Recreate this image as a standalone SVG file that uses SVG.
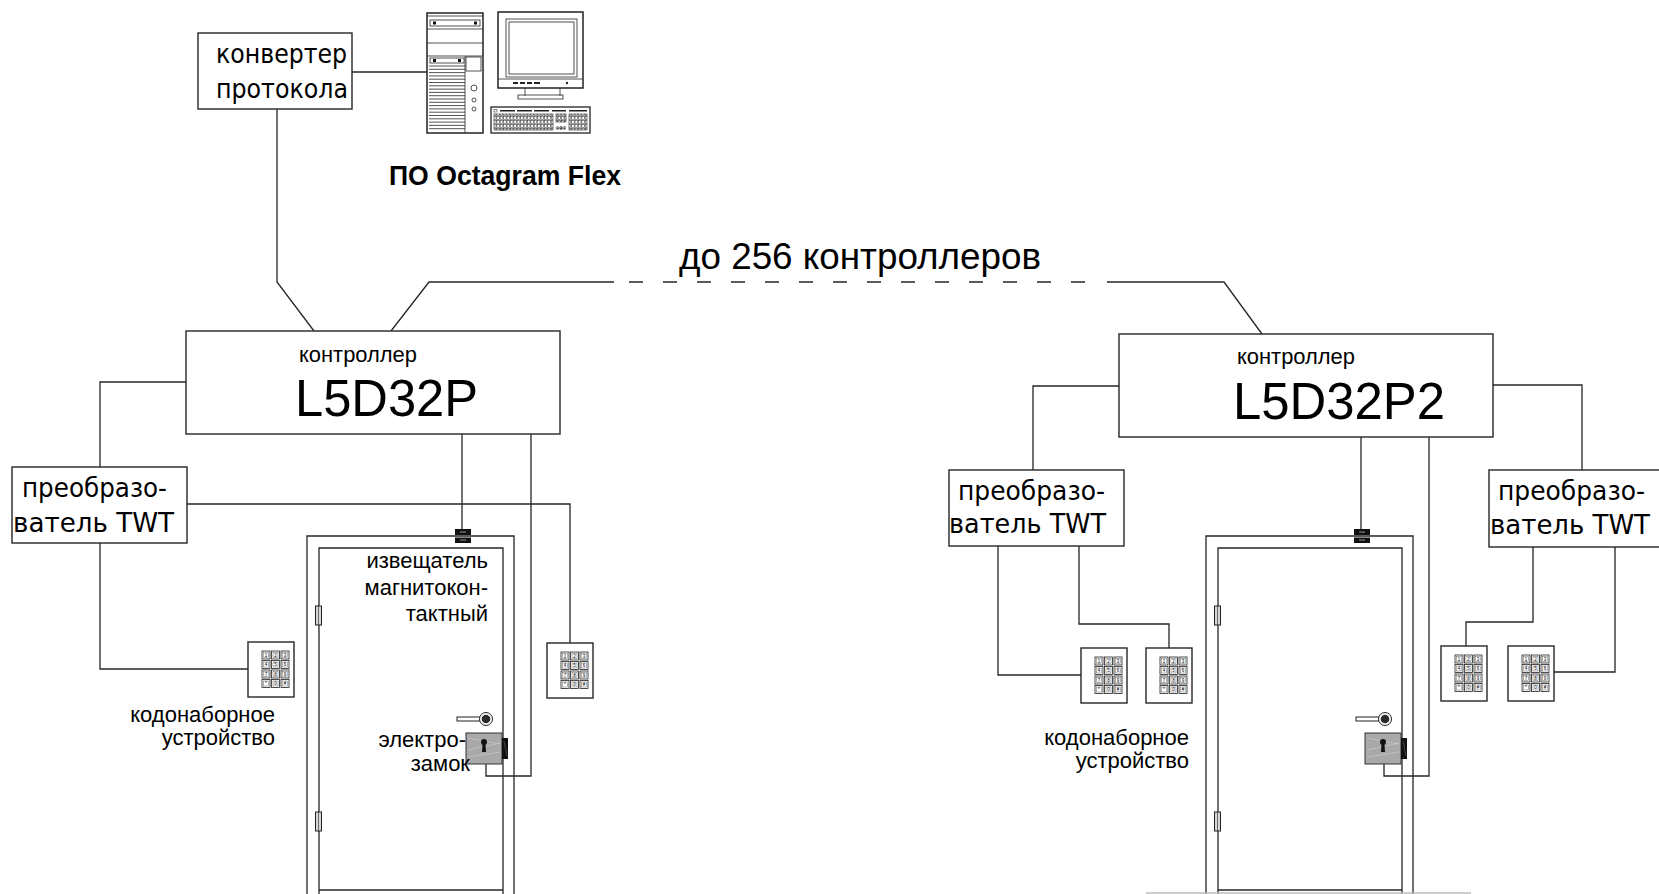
<svg xmlns="http://www.w3.org/2000/svg" xmlns:xlink="http://www.w3.org/1999/xlink" width="1659" height="894" viewBox="0 0 1659 894">
  <style>
    .ln { fill: none; stroke: #262626; stroke-width: 1.3; }
    .box { fill: #fff; stroke: #262626; stroke-width: 1.4; }
    .thin { fill: none; stroke: #262626; stroke-width: 0.8; }
    .ar { font-family: "Liberation Sans", Arial, sans-serif; fill: #000; }
    .gost { font-family: "DejaVu Sans", "Liberation Sans", sans-serif; fill: #000; font-size: 27px; }
    .key { fill: #fff; stroke: #222; stroke-width: 0.8; }
    .keyin { fill: none; stroke: #444; stroke-width: 0.4; }
    .kd { font-family: "Liberation Sans", Arial, sans-serif; font-size: 4.5px; fill: #000; text-anchor: middle; }
  </style>
  <defs>
    <!-- keypad: 46 x 55 housing with a 3 x 4 key grid -->
    <g id="kp">
      <rect class="box" x="0" y="0" width="46" height="55"/>
      <g>
        <rect class="key" x="14" y="9" width="8" height="8"/><rect class="keyin" x="15.5" y="10.5" width="5" height="5"/><text class="kd" x="18" y="14.7">1</text>
        <rect class="key" x="23.5" y="9" width="8" height="8"/><rect class="keyin" x="25" y="10.5" width="5" height="5"/><text class="kd" x="27.5" y="14.7">2</text>
        <rect class="key" x="33" y="9" width="8" height="8"/><rect class="keyin" x="34.5" y="10.5" width="5" height="5"/><text class="kd" x="37" y="14.7">3</text>
        <rect class="key" x="14" y="18.5" width="8" height="8"/><rect class="keyin" x="15.5" y="20" width="5" height="5"/><text class="kd" x="18" y="24.2">4</text>
        <rect class="key" x="23.5" y="18.5" width="8" height="8"/><rect class="keyin" x="25" y="20" width="5" height="5"/><text class="kd" x="27.5" y="24.2">5</text>
        <rect class="key" x="33" y="18.5" width="8" height="8"/><rect class="keyin" x="34.5" y="20" width="5" height="5"/><text class="kd" x="37" y="24.2">6</text>
        <rect class="key" x="14" y="28" width="8" height="8"/><rect class="keyin" x="15.5" y="29.5" width="5" height="5"/><text class="kd" x="18" y="33.7">7</text>
        <rect class="key" x="23.5" y="28" width="8" height="8"/><rect class="keyin" x="25" y="29.5" width="5" height="5"/><text class="kd" x="27.5" y="33.7">8</text>
        <rect class="key" x="33" y="28" width="8" height="8"/><rect class="keyin" x="34.5" y="29.5" width="5" height="5"/><text class="kd" x="37" y="33.7">9</text>
        <rect class="key" x="14" y="37.5" width="8" height="8"/><rect class="keyin" x="15.5" y="39" width="5" height="5"/><text class="kd" x="18" y="43.2">*</text>
        <rect class="key" x="23.5" y="37.5" width="8" height="8"/><rect class="keyin" x="25" y="39" width="5" height="5"/><text class="kd" x="27.5" y="43.2">0</text>
        <rect class="key" x="33" y="37.5" width="8" height="8"/><rect class="keyin" x="34.5" y="39" width="5" height="5"/><text class="kd" x="37" y="43.2">#</text>
      </g>
    </g>

    <!-- door leaf in frame with hinges, reed sensor, handle and electric lock -->
    <g id="door">
      <path class="ln" d="M307,894 V536 H514 V894"/>
      <path class="ln" d="M319,894 V548 H503 V894"/>
      <line class="ln" x1="319" y1="890" x2="503" y2="890"/>
      <rect x="315.5" y="606" width="6" height="19" fill="#d8d8d8" stroke="#222" stroke-width="1"/>
      <line x1="318.5" y1="606" x2="318.5" y2="625" stroke="#222" stroke-width="0.6"/>
      <rect x="315.5" y="812" width="6" height="19" fill="#d8d8d8" stroke="#222" stroke-width="1"/>
      <line x1="318.5" y1="812" x2="318.5" y2="831" stroke="#222" stroke-width="0.6"/>
      <rect x="455" y="529" width="16" height="6" fill="#111"/>
      <rect x="455" y="537.5" width="16" height="5.5" fill="#111"/>
      <line x1="460" y1="532" x2="466" y2="532" stroke="#ccc" stroke-width="0.7"/>
      <line x1="460" y1="540" x2="466" y2="540" stroke="#ccc" stroke-width="0.7"/>
      <rect x="457" y="717" width="24" height="4" fill="#fff" stroke="#222" stroke-width="1"/>
      <circle cx="486" cy="719" r="6.5" fill="#fff" stroke="#222" stroke-width="1"/>
      <circle cx="486" cy="719" r="4.3" fill="#2a2a2a"/>
      <rect x="466" y="733" width="36" height="31" fill="#a9a9a9" stroke="#333" stroke-width="1"/>
      <path d="M468,738 L500,744 M468,750 L500,743 M468,757 L500,752" stroke="#cfcfcf" stroke-width="0.6" fill="none"/>
      <circle cx="484" cy="742" r="3" fill="#111"/>
      <path d="M482.6,743 H485.4 L486,752 H482 Z" fill="#111"/>
      <rect x="502" y="738" width="6" height="21" fill="#111"/>
      <line x1="504" y1="741" x2="507" y2="756" stroke="#777" stroke-width="0.5"/>
    </g>

    <pattern id="keys" x="0" y="0" width="3.4" height="4" patternUnits="userSpaceOnUse">
      <rect x="0.3" y="0.4" width="2.8" height="3.2" fill="#fff" stroke="#222" stroke-width="0.5"/>
    </pattern>
  </defs>

  <!-- connectors -->
  <g id="connectors">
    <path class="ln" d="M352,72 H427"/>
    <path class="ln" d="M277,109 V282 L314,331"/>
    <path class="ln" d="M391,331 L429,282 H614"/>
    <path class="ln" d="M629,282 H1085" stroke-dasharray="14 20"/>
    <path class="ln" d="M1107,282 H1224 L1262,334"/>
    <path class="ln" d="M186,382 H100 V467"/>
    <path class="ln" d="M100,543 V669 H248"/>
    <path class="ln" d="M187,504 H570 V643"/>
    <path class="ln" d="M462,434 V529"/>
    <path class="ln" d="M531,434 V776 H486 V764"/>
    <path class="ln" d="M1119,386 H1033 V470"/>
    <path class="ln" d="M998,546 V675 H1081"/>
    <path class="ln" d="M1079,546 V624 H1169 V648"/>
    <path class="ln" d="M1493,385 H1582 V470"/>
    <path class="ln" d="M1533,547 V622 H1466 V646"/>
    <path class="ln" d="M1615,547 V672 H1554"/>
    <path class="ln" d="M1361,437 V529"/>
    <path class="ln" d="M1429,437 V776 H1384 V764"/>
  </g>

  <!-- protocol converter -->
  <g id="converter">
    <rect class="box" x="198" y="33" width="154" height="76"/>
    <text class="gost" x="216" y="63" textLength="131" lengthAdjust="spacingAndGlyphs">конвертер</text>
    <text class="gost" x="216" y="98" textLength="132" lengthAdjust="spacingAndGlyphs">протокола</text>
  </g>

  <!-- workstation -->
  <g id="workstation">
    <rect x="427" y="13" width="56" height="120" fill="#fff" stroke="#222" stroke-width="1.5"/>
    <line class="thin" x1="427" y1="16" x2="483" y2="16"/>
    <rect class="thin" x="430" y="20" width="50" height="6"/>
    <rect x="433" y="21.5" width="3" height="3" fill="#111"/>
    <rect x="474" y="21.5" width="3" height="3" fill="#111"/>
    <line class="thin" x1="427" y1="29" x2="483" y2="29"/>
    <line class="thin" x1="427" y1="43" x2="483" y2="43"/>
    <line class="thin" x1="427" y1="56" x2="483" y2="56"/>
    <rect class="thin" x="430" y="58" width="34" height="5"/>
    <rect x="433" y="59" width="3" height="3" fill="#111"/>
    <rect x="458" y="59" width="3" height="3" fill="#111"/>
    <rect class="thin" x="466" y="57" width="15" height="14"/>
    <line class="thin" x1="465" y1="56" x2="465" y2="133"/>
    <path class="thin" d="M429,66 H465 M429,69.3 H465 M429,72.6 H465 M429,75.9 H465 M429,79.2 H465 M429,82.5 H465 M429,85.8 H465 M429,89.1 H465 M429,92.4 H465 M429,95.7 H465 M429,99 H465 M429,102.3 H465 M429,105.6 H465 M429,108.9 H465 M429,112.2 H465 M429,115.5 H465 M429,118.8 H465 M429,122.1 H465 M429,125.4 H465 M429,128.7 H465"/>
    <circle class="thin" cx="474" cy="88" r="3"/>
    <circle class="thin" cx="474" cy="100" r="2"/>
    <circle class="thin" cx="474" cy="109" r="2"/>

    <rect x="498" y="12" width="85" height="76" fill="#fff" stroke="#222" stroke-width="1.5"/>
    <rect class="thin" x="506" y="19" width="71" height="58"/>
    <rect class="thin" x="509" y="22" width="65" height="52"/>
    <line class="thin" x1="498" y1="79" x2="583" y2="79"/>
    <path d="M513,83 H518 M520,83 H525 M527,83 H532 M534,83 H540" stroke="#222" stroke-width="2"/>
    <circle cx="567" cy="83" r="1.2" fill="#222"/>
    <path class="thin" d="M525,88 V96 M560,88 V96"/>
    <rect class="thin" x="518" y="95" width="45" height="4"/>

    <rect x="491" y="107" width="99" height="26" fill="#fff" stroke="#222" stroke-width="1.3"/>
    <rect x="494" y="109.5" width="3" height="2.5" fill="#fff" stroke="#222" stroke-width="0.5"/>
    <path d="M500,110.8 H515 M517,110.8 H532 M534,110.8 H549 M552,110.8 H566 M569,110.8 H587" stroke="#222" stroke-width="1.6"/>
    <rect x="494" y="114" width="59" height="16" fill="url(#keys)" stroke="#222" stroke-width="0.6"/>
    <rect x="556" y="114" width="10" height="8" fill="url(#keys)" stroke="#222" stroke-width="0.6"/>
    <rect x="559.4" y="126" width="3.4" height="4" fill="url(#keys)"/>
    <rect x="555.5" y="126" width="10.5" height="4" fill="url(#keys)"/>
    <rect x="569" y="114" width="18" height="16" fill="url(#keys)" stroke="#222" stroke-width="0.6"/>
  </g>

  <g id="software-label">
    <text class="ar" x="389" y="185" font-size="27" font-weight="bold" textLength="232" lengthAdjust="spacingAndGlyphs">ПО Octagram Flex</text>
  </g>

  <g id="bus-label">
    <text class="ar" x="679" y="269" font-size="37" textLength="362" lengthAdjust="spacingAndGlyphs">до 256 контроллеров</text>
  </g>

  <!-- controller L5D32P -->
  <g id="controller-1">
    <rect class="box" x="186" y="331" width="374" height="103"/>
    <text class="ar" x="299" y="362" font-size="22" textLength="118" lengthAdjust="spacingAndGlyphs">контроллер</text>
    <text class="ar" x="295" y="416" font-size="52" textLength="183" lengthAdjust="spacingAndGlyphs">L5D32P</text>
  </g>

  <!-- controller L5D32P2 -->
  <g id="controller-2">
    <rect class="box" x="1119" y="334" width="374" height="103"/>
    <text class="ar" x="1237" y="364" font-size="22" textLength="118" lengthAdjust="spacingAndGlyphs">контроллер</text>
    <text class="ar" x="1233" y="419" font-size="52" textLength="212" lengthAdjust="spacingAndGlyphs">L5D32P2</text>
  </g>

  <!-- TWT converters -->
  <g id="twt-1">
    <rect class="box" x="12" y="467" width="175" height="76"/>
    <text class="gost" x="22" y="497" textLength="145" lengthAdjust="spacingAndGlyphs">преобразо-</text>
    <text class="gost" x="13" y="532" textLength="161" lengthAdjust="spacingAndGlyphs">ватель TWT</text>
  </g>
  <g id="twt-2">
    <rect class="box" x="949" y="470" width="175" height="76"/>
    <text class="gost" x="958" y="500" textLength="147" lengthAdjust="spacingAndGlyphs">преобразо-</text>
    <text class="gost" x="949" y="533" textLength="157" lengthAdjust="spacingAndGlyphs">ватель TWT</text>
  </g>
  <g id="twt-3">
    <rect class="box" x="1489" y="470" width="175" height="77"/>
    <text class="gost" x="1498" y="500" textLength="147" lengthAdjust="spacingAndGlyphs">преобразо-</text>
    <text class="gost" x="1490" y="534" textLength="160" lengthAdjust="spacingAndGlyphs">ватель TWT</text>
  </g>

  <!-- keypads -->
  <g id="keypad-1"><use xlink:href="#kp" x="248" y="642"/></g>
  <g id="keypad-2"><use xlink:href="#kp" x="547" y="643"/></g>
  <g id="keypad-3"><use xlink:href="#kp" x="1081" y="648"/></g>
  <g id="keypad-4"><use xlink:href="#kp" x="1146" y="648"/></g>
  <g id="keypad-5"><use xlink:href="#kp" x="1441" y="646"/></g>
  <g id="keypad-6"><use xlink:href="#kp" x="1508" y="646"/></g>

  <g id="keypad-label-1">
    <text class="ar" x="275" y="722" font-size="22" text-anchor="end">кодонаборное</text>
    <text class="ar" x="275" y="745" font-size="22" text-anchor="end">устройство</text>
  </g>
  <g id="keypad-label-2">
    <text class="ar" x="1189" y="745" font-size="22" text-anchor="end">кодонаборное</text>
    <text class="ar" x="1189" y="768" font-size="22" text-anchor="end">устройство</text>
  </g>

  <!-- doors -->
  <g id="door-1">
    <use xlink:href="#door" x="0" y="0"/>
    <text class="ar" x="488" y="568" font-size="22" text-anchor="end">извещатель</text>
    <text class="ar" x="488" y="595" font-size="22" text-anchor="end">магнитокон-</text>
    <text class="ar" x="488" y="621" font-size="22" text-anchor="end">тактный</text>
    <text class="ar" x="466" y="747" font-size="22" text-anchor="end">электро-</text>
    <text class="ar" x="470" y="771" font-size="22" text-anchor="end">замок</text>
  </g>
  <g id="door-2">
    <use xlink:href="#door" x="899" y="0"/>
    <line x1="1146" y1="893" x2="1471" y2="893" stroke="#bdbdbd" stroke-width="1.5"/>
  </g>
</svg>
